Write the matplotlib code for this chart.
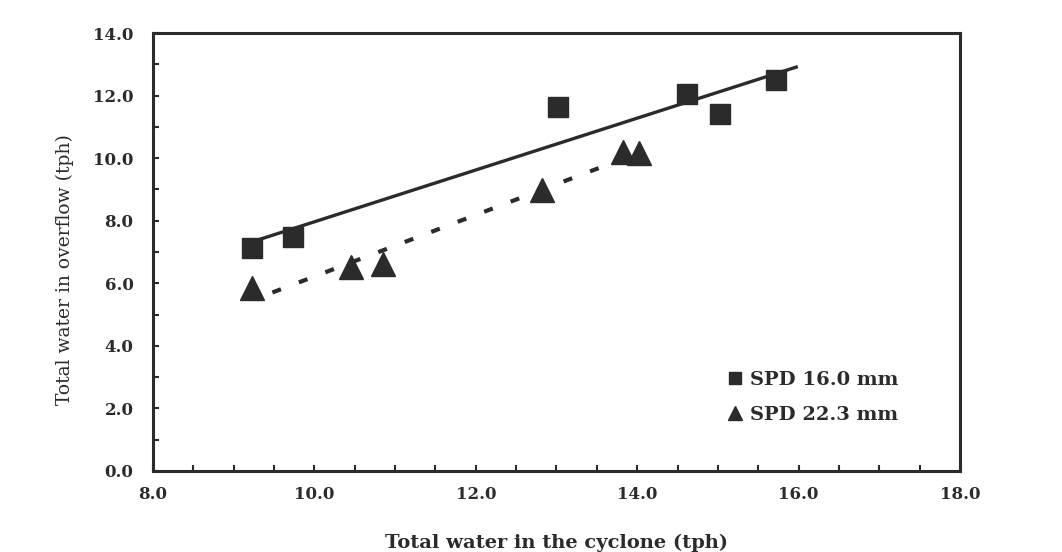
import matplotlib
matplotlib.use("Agg")
import matplotlib.pyplot as plt
import numpy as np
from matplotlib.ticker import MultipleLocator, FormatStrFormatter

# data
spd16_x = [9.23, 9.73, 13.02, 14.62, 15.03, 15.72]
spd16_y = [7.12, 7.48, 11.63, 12.04, 11.41, 12.49]
spd22_x = [9.23, 10.45, 10.85, 12.82, 13.82, 14.02]
spd22_y = [5.85, 6.52, 6.61, 8.98, 10.19, 10.16]
labels = ["SPD 16.0 mm", "SPD 22.3 mm"]

# the scan is stretched sideways, the wider serif gets closer to it
plt.rcParams['font.family'] = ['DejaVu Serif']
ink = '#2b2b2b'

fig = plt.figure(figsize=(10.62, 5.52), dpi=100)
ax = fig.add_axes([0.144, 0.147, 0.760, 0.793])

# linear trend lines
p16 = np.polyfit(spd16_x, spd16_y, 1)
xx = np.linspace(min(spd16_x), max(spd16_x) + 0.25, 2)
ax.plot(xx, np.polyval(p16, xx), color=ink, lw=2.4, zorder=2)

p22 = np.polyfit(spd22_x, spd22_y, 1)
xx = np.linspace(min(spd22_x) + 0.25, max(spd22_x) - 0.25, 2)
ax.plot(xx, np.polyval(p22, xx), color=ink, lw=3, linestyle=(0, (2.2, 4.6)), zorder=2)

ax.plot(spd16_x, spd16_y, 's', color=ink, markersize=15, label=labels[0], zorder=3)
ax.plot(spd22_x, spd22_y, '^', color=ink, markersize=17, label=labels[1], zorder=3)

ax.set_xlim(8, 18)
ax.set_ylim(0, 14)
ax.xaxis.set_major_locator(MultipleLocator(2))
ax.xaxis.set_minor_locator(MultipleLocator(0.5))
ax.yaxis.set_major_locator(MultipleLocator(2))
ax.yaxis.set_minor_locator(MultipleLocator(1))
ax.xaxis.set_major_formatter(FormatStrFormatter('%.1f'))
ax.yaxis.set_major_formatter(FormatStrFormatter('%.1f'))
ax.tick_params(which='both', direction='in', length=4, width=1.5, color=ink,
               labelsize=12, labelcolor=ink)
ax.tick_params(axis='x', pad=11)
ax.tick_params(axis='y', pad=14)
for lab in ax.get_xticklabels() + ax.get_yticklabels():
    lab.set_fontweight('bold')

for s in ax.spines.values():
    s.set_linewidth(2.2)
    s.set_color(ink)

ax.set_xlabel("Total water in the cyclone (tph)", fontsize=14, fontweight='bold',
              color=ink, labelpad=22)
ax.set_ylabel("Total water in overflow (tph)", fontsize=13.5, color=ink)
ax.yaxis.set_label_coords(-0.098, 0.46)

leg = ax.legend(loc='lower right', bbox_to_anchor=(0.945, 0.068), frameon=False,
                markerscale=0.6, handlelength=0.8, handletextpad=0.35,
                labelspacing=0.85, prop={'size': 14, 'weight': 'bold'})
for t in leg.get_texts():
    t.set_color(ink)

fig.savefig("out.png", dpi=100)
